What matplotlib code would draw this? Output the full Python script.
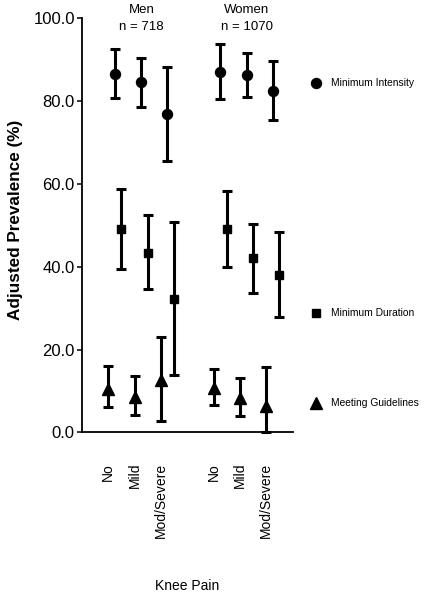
import matplotlib
matplotlib.use("Agg")
import matplotlib.pyplot as plt

plt.rcParams['font.family'] = ['Liberation Sans', 'DejaVu Sans']

# knee pain categories, men then women
categories = ["No", "Mild", "Mod/Severe", "No", "Mild", "Mod/Severe"]
x_pos = [0, 1, 2, 4, 5, 6]
groups = ["Men", "Women"]
group_n = ["n = 718", "n = 1070"]

# adjusted prevalence (%) with 95% CI bounds
intensity = [86.6, 84.5, 76.8, 87.0, 86.2, 82.4]
intensity_lo = [80.8, 78.7, 65.5, 80.4, 80.9, 75.4]
intensity_hi = [92.7, 90.4, 88.2, 93.9, 91.7, 89.6]

duration = [49.0, 43.4, 32.3, 49.0, 42.1, 37.9]
duration_lo = [39.4, 34.5, 13.9, 40.0, 33.7, 27.8]
duration_hi = [58.7, 52.5, 50.8, 58.2, 50.3, 48.3]

guidelines = [10.5, 8.5, 12.6, 10.7, 8.3, 6.3]
guidelines_lo = [6.0, 4.2, 2.8, 6.6, 3.9, 0.0]
guidelines_hi = [15.9, 13.5, 23.0, 15.3, 13.2, 15.8]

series = [
    ("Minimum Intensity", "o", 7.2, 0.25, intensity, intensity_lo, intensity_hi, 84.4),
    ("Minimum Duration", "s", 6.3, 0.5, duration, duration_lo, duration_hi, 28.7),
    ("Meeting Guidelines", "^", 8.5, 0.0, guidelines, guidelines_lo, guidelines_hi, 7.0),
]

fig = plt.figure(figsize=(4.26, 5.99), dpi=100)
ax = fig.add_axes([0.192, 0.2783, 0.495, 0.6911])

for label, marker, ms, offset, vals, lo, hi, leg_y in series:
    xs = [x + offset for x in x_pos]
    err = [[v - l for v, l in zip(vals, lo)], [h - v for v, h in zip(vals, hi)]]
    ax.errorbar(xs, vals, yerr=err, fmt=marker, color="black", ms=ms,
                elinewidth=2.2, capsize=3.8, capthick=2.2, clip_on=False, zorder=3)
    # legend entry at right
    ax.plot([7.88], [leg_y], marker=marker, color="black", ms=ms, clip_on=False)
    ax.text(8.45, leg_y, label, fontsize=7.4, va="center", ha="left")

ax.set_xlim(-1, 7)
ax.set_ylim(0, 100)
ax.set_yticks([0, 20, 40, 60, 80, 100])
ax.set_yticklabels(["%.1f" % t for t in [0, 20, 40, 60, 80, 100]], fontsize=12)
ax.set_xticks(x_pos)
ax.set_xticklabels(categories, rotation=90, fontsize=10)
ax.tick_params(axis="x", length=0, pad=22)
ax.tick_params(axis="y", length=3.5, width=1.1, pad=1.5)

for s in ["top", "right"]:
    ax.spines[s].set_visible(False)
for s in ["left", "bottom"]:
    ax.spines[s].set_linewidth(1.3)

# group headers
for gx, g, n in zip([1.27, 5.26], groups, group_n):
    ax.text(gx, 101.2, g, fontsize=9.5, ha="center", va="baseline", clip_on=False)
    ax.text(gx, 97.3, n, fontsize=9.5, ha="center", va="baseline", clip_on=False)

fig.text(16 / 426, 1 - 220 / 599, "Adjusted Prevalence (%)", rotation=90,
         fontsize=12.3, fontweight="bold", ha="center", va="center")
fig.text(187.5 / 426, 1 - 585.7 / 599, "Knee Pain", fontsize=10,
         ha="center", va="center")

fig.savefig("out.png", dpi=100)
